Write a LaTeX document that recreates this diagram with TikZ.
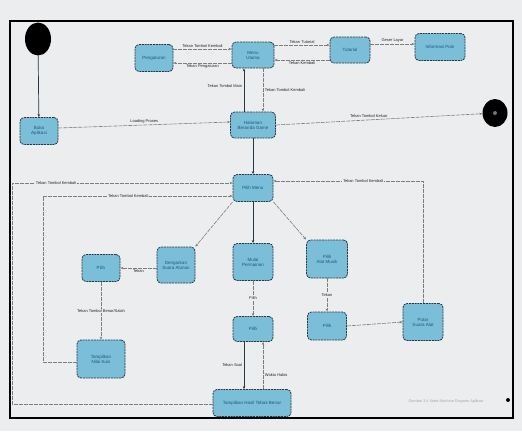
\documentclass[tikz,border=0pt]{standalone}
\usepackage{fontspec}
\setmainfont{Liberation Sans}
\usetikzlibrary{arrows.meta,calc,shapes.geometric}
\definecolor{bg}{RGB}{236,237,238}
\definecolor{stbox}{RGB}{122,190,216}
\definecolor{stline}{RGB}{40,55,70}
\definecolor{stext}{RGB}{35,85,125}
\definecolor{cline}{RGB}{125,125,125}
\begin{document}
\begin{tikzpicture}[x=1pt,y=-1pt,
  state/.style={draw=stline, dash pattern=on 2pt off 0.8pt, line width=0.8pt, fill=stbox,
    rounded corners=4pt, inner sep=1pt, font=\fontsize{4.5}{5}\selectfont, text=stext, align=center},
  conn/.style={draw=cline, line width=0.6pt, dash pattern=on 4pt off 1pt, -{Stealth[length=3pt,width=2.5pt]}},
  sconn/.style={draw=stline, line width=0.7pt, -{Stealth[length=3pt,width=2.5pt]}},
  lbl/.style={font=\fontsize{4}{4.5}\selectfont, text=black!85, fill=bg, inner sep=0.6pt}]
\useasboundingbox (0,0) rectangle (522,431);
\fill[bg] (0,0) rectangle (522,431);
\draw[line width=2pt, black] (10,21) rectangle (513,418);

% nodes
\node[ellipse, fill=black, minimum width=26pt, minimum height=33pt, inner sep=0pt] (init) at (38,39) {};
\node[state, minimum width=38pt, minimum height=27pt] (start) at (39,131) {Buka\\Aplikasi};
\node[state, minimum width=38pt, minimum height=27pt] (peng) at (154,58) {Pengaturan};
\node[state, minimum width=42pt, minimum height=26pt] (main) at (253,55) {Menu\\Utama};
\node[state, minimum width=40pt, minimum height=26pt] (tut) at (350,50) {Tutorial};
\node[state, minimum width=50pt, minimum height=27pt] (info) at (440,47) {Informasi Poin};
\node[state, minimum width=45pt, minimum height=26pt] (home) at (253,125) {Halaman\\Beranda Game};
\node[ellipse, fill=black, minimum width=25pt, minimum height=28pt, inner sep=0pt] (final) at (495,113) {};
\fill[black!55] (final.center) circle (2);
\node[state, minimum width=40pt, minimum height=27pt] (menu) at (253,188) {Pilih Menu};
\node[state, minimum width=38pt, minimum height=36pt] (dengar) at (176,265) {Dengarkan\\Suara Alunan};
\node[state, minimum width=38pt, minimum height=27pt] (pilihA) at (101,268) {Pilih};
\node[state, minimum width=40pt, minimum height=37pt] (mulai) at (253,262) {Mulai\\Permainan};
\node[state, minimum width=41pt, minimum height=38pt] (alat) at (327,259) {Pilih\\Alat Musik};
\node[state, minimum width=40pt, minimum height=25pt] (pilihB) at (253,329) {Pilih};
\node[state, minimum width=39pt, minimum height=28pt] (pilihC) at (327,326) {Pilih};
\node[state, minimum width=40pt, minimum height=37pt] (putar) at (423,322) {Putar\\Suara Alat};
\node[state, minimum width=48pt, minimum height=38pt] (nilai) at (101,359) {Tampilkan\\Nilai Kuis};
\node[state, minimum width=78pt, minimum height=27pt] (hasil) at (252,403) {Tampilkan Hasil Tebak Benar};

\node[font=\fontsize{3.8}{4}\selectfont, text=black!35] (cap) at (446,402) {Gambar 3.4 State Machine Diagram Aplikasi};
\fill[black] (508,400) circle (2);

% helper coordinates
\coordinate (c1) at (43,362);
\coordinate (c2) at (43,196);
\coordinate (c3) at (12,404);
\coordinate (c4) at (12,183);
\coordinate (c5) at (423,181);

% connectors
\draw[sconn] (init) -- (start);
\draw[conn] ($(start.east)+(0,-3)$) -- node[lbl, above=1pt, fill=none] {Loading Proses} ($(home.west)+(0,-3)$);
\draw[conn] (home.east) -- node[lbl, above=1pt, fill=none, pos=0.45] {Tekan Tombol Keluar} (final);
\draw[sconn] ($(home.north)+(-9,0)$) -- node[lbl, left=1pt, fill=none, pos=0.6] {Tekan Tombol Main} ($(main.south)+(-9,0)$);
\draw[conn] ($(main.south)+(10,0)$) -- node[lbl, right=1pt, fill=none, pos=0.5] {Tekan Tombol Kembali} ($(home.north)+(10,0)$);
\draw[conn] ($(peng.east)+(0,-9)$) -- node[lbl, above=1pt, fill=none] {Tekan Tombol Kembali} ($(main.west)+(0,-6)$);
\draw[conn] ($(main.west)+(0,8)$) -- node[lbl, below=1pt, fill=none] {Tekan Pengaturan} ($(peng.east)+(0,5)$);
\draw[conn] ($(main.east)+(0,-10)$) -- node[lbl, above=1pt, fill=none] {Tekan Tutorial} ($(tut.west)+(0,-5)$);
\draw[conn] ($(tut.west)+(0,10)$) -- node[lbl, below=1pt, fill=none] {Tekan Kembali} ($(main.east)+(0,5)$);
\draw[conn] ($(tut.east)+(0,-6)$) -- node[lbl, above=1pt, fill=none] {Geser Layar} ($(info.west)+(0,-3)$);
\draw[sconn] (home) -- (menu);
\draw[conn] (menu.south west) -- (dengar.north east);
\draw[sconn] (menu) -- (mulai);
\draw[conn] (menu.south east) -- (alat.north west);
\draw[conn] (dengar.west |- pilihA.east) -- node[lbl, below=1pt, fill=none] {Tekan} (pilihA.east);
\draw[conn] (pilihA) -- node[lbl] {Tekan Tombol Benar/Salah} (nilai);
\draw[conn] (nilai.west |- c1) -- (c1) -- (c2) -- node[lbl, pos=0.45] {Tekan Tombol Kembali} (c2 -| menu.west);
\draw[conn] (hasil.west |- c3) -- (c3) -- (c4) -- node[lbl, pos=0.2] {Tekan Tombol Kembali} (c4 -| menu.west);
\draw[conn] (mulai) -- node[lbl] {Pilih} (pilihB);
\draw[sconn] ($(pilihB.south)+(-9,0)$) -- node[lbl, left=1pt, fill=none] {Tekan Soal} ($(hasil.north)+(-8,0)$);
\draw[conn] ($(hasil.north)+(11,0)$) -- node[lbl, right=1pt, fill=none, pos=0.3] {Waktu Habis} ($(pilihB.south)+(10,0)$);
\draw[conn] (alat) -- node[lbl] {Tekan} (pilihC);
\draw[conn] (pilihC.east) -- (putar.west);
\draw[conn] (putar.north) -- (c5) -- node[lbl, pos=0.4] {Tekan Tombol Kembali} (c5 -| menu.east);
\end{tikzpicture}
\end{document}
